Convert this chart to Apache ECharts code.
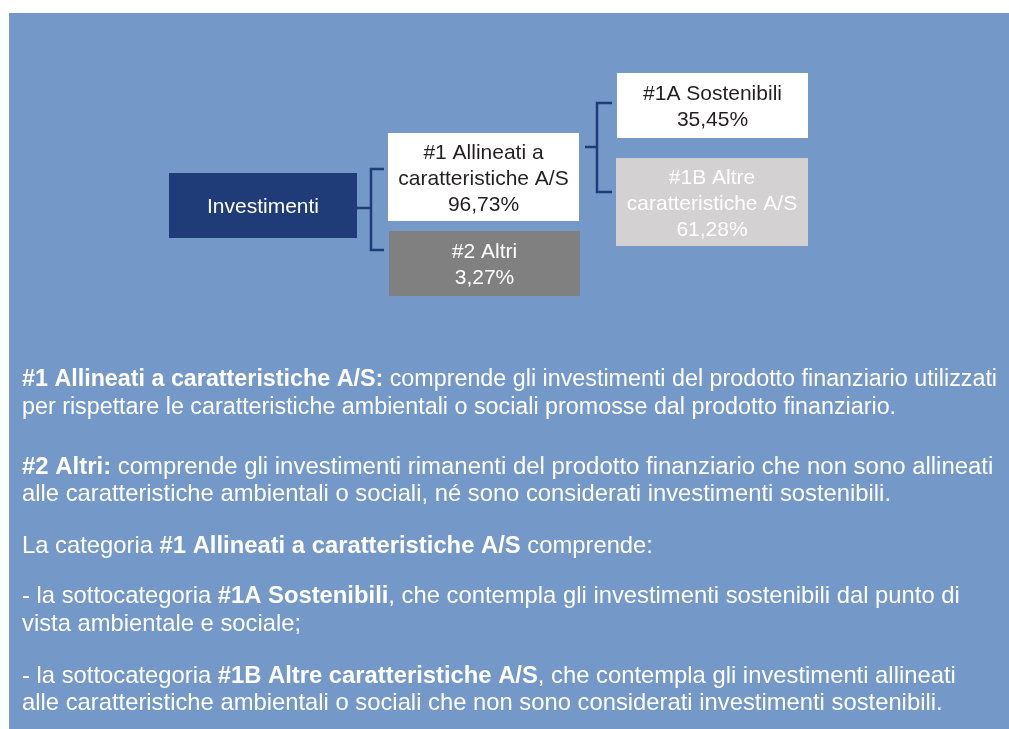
<!DOCTYPE html>
<html>
<head>
<meta charset="utf-8">
<title>Investimenti</title>
<script src="https://cdn.jsdelivr.net/npm/echarts@6/dist/echarts.min.js"></script>
<style>
    html, body {margin: 0; padding: 0; background: #ffffff;}
    #main {width: 1009px; height: 729px;}
</style>
</head>
<body>
<div id="main"></div>
<script>
// dati del diagramma
var nodeNames = ['Investimenti', '#1 Allineati a\ncaratteristiche A/S', '#2 Altri', '#1A Sostenibili', '#1B Altre\ncaratteristiche A/S'];
var nodeShares = ['', '96,73%', '3,27%', '35,45%', '61,28%'];
var nodeParents = [-1, 0, 0, 1, 1];

// testo descrittivo: ogni riga e' una lista di [testo, grassetto]
var noteLines = [
    [['#1 Allineati a caratteristiche A/S:', true], [' comprende gli investimenti del prodotto finanziario utilizzati', false]],
    [['per rispettare le caratteristiche ambientali o sociali promosse dal prodotto finanziario.', false]],
    [['#2 Altri:', true], [' comprende gli investimenti rimanenti del prodotto finanziario che non sono allineati', false]],
    [['alle caratteristiche ambientali o sociali, né sono considerati investimenti sostenibili.', false]],
    [['La categoria ', false], ['#1 Allineati a caratteristiche A/S', true], [' comprende:', false]],
    [['- la sottocategoria ', false], ['#1A Sostenibili', true], [', che contempla gli investimenti sostenibili dal punto di', false]],
    [['vista ambientale e sociale;', false]],
    [['- la sottocategoria ', false], ['#1B Altre caratteristiche A/S', true], [', che contempla gli investimenti allineati', false]],
    [['alle caratteristiche ambientali o sociali che non sono considerati investimenti sostenibili.', false]]
];

// impaginazione (pixel)
var boxLayout = [
    {x: 169, y: 173, w: 188, h: 65, fill: '#1f3b78', text: '#ffffff'},
    {x: 388, y: 133, w: 191, h: 88, fill: '#ffffff', text: '#231f20'},
    {x: 389, y: 231, w: 191, h: 65, fill: '#808080', text: '#ffffff'},
    {x: 617, y: 73, w: 191, h: 65, fill: '#ffffff', text: '#231f20'},
    {x: 616, y: 158, w: 192, h: 88, fill: '#d3d1d2', text: '#ffffff'}
];
var bracketLayout = {
    0: {from: 357, spine: 371, to: 384, top: 169, bottom: 250, mid: 208},
    1: {from: 585, spine: 597, to: 612, top: 103, bottom: 192, mid: 147}
};
var noteY = [378, 406, 465, 492, 544, 594, 622, 674, 701];
var noteSize = [23.3, 23.3, 23.95, 23.8, 23.8, 23.8, 23.8, 23.8, 23.8];

var FONT = '"Liberation Sans", Arial, sans-serif';

var parents = [];
nodeParents.forEach(function (p) {
    if (p >= 0 && parents.indexOf(p) < 0) parents.push(p);
});

var myChart = echarts.init(document.getElementById('main'));

function renderBox(params, api) {
    var i = api.value(0);
    var b = boxLayout[i];
    var p0 = api.coord([b.x, b.y]);
    var p1 = api.coord([b.x + b.w, b.y + b.h]);
    var label = nodeNames[i] + (nodeShares[i] ? '\n' + nodeShares[i] : '');
    return {
        type: 'group',
        children: [{
            type: 'rect',
            shape: {x: p0[0], y: p0[1], width: p1[0] - p0[0], height: p1[1] - p0[1]},
            style: {fill: b.fill}
        }, {
            type: 'text',
            x: (p0[0] + p1[0]) / 2,
            y: (p0[1] + p1[1]) / 2 + 2,
            style: {
                text: label,
                fill: b.text,
                font: '21px ' + FONT,
                lineHeight: 26,
                align: 'center',
                verticalAlign: 'middle'
            }
        }]
    };
}

function renderBracket(params, api) {
    var k = bracketLayout[api.value(0)];
    var a = api.coord([k.from, k.mid]);
    var s = api.coord([k.spine, k.mid]);
    var t = api.coord([k.spine, k.top]);
    var bt = api.coord([k.spine, k.bottom]);
    var ta = api.coord([k.to, k.top]);
    var ba = api.coord([k.to, k.bottom]);
    var st = {stroke: '#1f3b78', lineWidth: 2.5, fill: null};
    return {
        type: 'group',
        children: [
            {type: 'line', shape: {x1: a[0], y1: a[1], x2: s[0], y2: s[1]}, style: st},
            {type: 'polyline', shape: {points: [ta, t, bt, ba]}, style: st}
        ]
    };
}

var noteGraphics = noteLines.map(function (line, i) {
    var fs = noteSize[i];
    var rich = {
        n: {fontFamily: FONT, fontSize: fs, color: '#ffffff'},
        b: {fontFamily: FONT, fontSize: fs, fontWeight: 'bold', color: '#ffffff'}
    };
    var text = line.map(function (seg) {
        return '{' + (seg[1] ? 'b' : 'n') + '|' + seg[0] + '}';
    }).join('');
    return {
        type: 'text',
        left: 22,
        top: noteY[i] - 10,
        z: 10,
        style: {text: text, rich: rich, fill: '#ffffff', font: fs + 'px ' + FONT}
    };
});

var option = {
    animation: false,
    grid: {left: 0, top: 0, right: 0, bottom: 0},
    xAxis: {type: 'value', min: 0, max: 1009, show: false},
    yAxis: {type: 'value', min: 0, max: 729, inverse: true, show: false},
    graphic: [{
        type: 'rect',
        left: 9,
        top: 13,
        z: -10,
        shape: {width: 1000, height: 716},
        style: {fill: '#7499c8'}
    }].concat(noteGraphics),
    series: [{
        type: 'custom',
        name: 'collegamenti',
        silent: true,
        renderItem: renderBracket,
        data: parents.map(function (p) { return [p]; })
    }, {
        type: 'custom',
        name: 'investimenti',
        renderItem: renderBox,
        data: nodeNames.map(function (n, i) { return [i]; })
    }]
};

myChart.setOption(option);
window.addEventListener('resize', function () {
    myChart.resize();
});
</script>
</body>
</html>
